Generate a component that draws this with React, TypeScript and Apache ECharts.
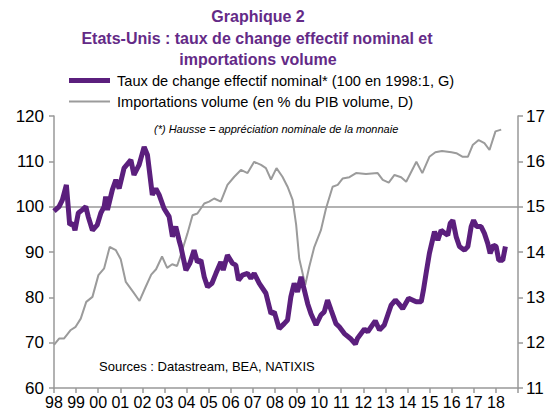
import React, { useEffect, useRef } from "react";
import * as echarts from "echarts";

const titleLines = [
  "Graphique 2",
  "Etats-Unis : taux de change effectif nominal et",
  "importations volume",
];
const legendNames = [
  "Taux de change effectif nominal* (100 en 1998:1, G)",
  "Importations volume (en % du PIB volume, D)",
];
const noteText = "(*) Hausse = appréciation nominale de la monnaie";
const sourceText = "Sources : Datastream, BEA, NATIXIS";

const leftTicks = [60, 70, 80, 90, 100, 110, 120];
const rightTicks = [11, 12, 13, 14, 15, 16, 17];
const yearStart = 1998;
const yearEnd = 2019;

// Taux de change effectif nominal (left axis)
const fxDates = [
  1998.0, 1998.23, 1998.38, 1998.56, 1998.71, 1998.86, 1998.95, 1999.1, 1999.28, 1999.44,
  1999.55, 1999.74, 1999.96, 2000.12, 2000.27, 2000.34, 2000.42, 2000.64, 2000.8, 2000.95,
  2001.17, 2001.48, 2001.62, 2001.85, 2002.08, 2002.23, 2002.45, 2002.61, 2002.76, 2002.98,
  2003.21, 2003.36, 2003.51, 2003.66, 2003.74, 2003.97, 2004.15, 2004.34, 2004.49, 2004.65,
  2004.8, 2004.95, 2005.15, 2005.33, 2005.55, 2005.66, 2005.85, 2006.08, 2006.23, 2006.35,
  2006.53, 2006.76, 2006.91, 2007.06, 2007.29, 2007.59, 2007.82, 2007.97, 2008.19, 2008.42,
  2008.57, 2008.72, 2008.87, 2009.02, 2009.18, 2009.33, 2009.48, 2009.63, 2009.86, 2010.08,
  2010.23, 2010.38, 2010.54, 2010.76, 2010.91, 2011.14, 2011.44, 2011.64, 2011.74, 2012.05,
  2012.2, 2012.54, 2012.73, 2012.95, 2013.26, 2013.45, 2013.6, 2013.78, 2014.05, 2014.39,
  2014.62, 2014.72, 2014.84, 2014.99, 2015.22, 2015.37, 2015.52, 2015.67, 2015.82, 2015.93,
  2016.05, 2016.2, 2016.35, 2016.58, 2016.73, 2016.88, 2016.99, 2017.13, 2017.33, 2017.48,
  2017.63, 2017.74, 2017.89, 2018.01, 2018.13, 2018.31, 2018.43,
];
const fxValues = [
  99, 100, 101.5, 104.8, 96, 96.3, 94.8, 98.6, 99.3, 100,
  97.8, 94.8, 96, 98.6, 100, 102.2, 99.3, 103.7, 105.9, 104,
  108.5, 110.3, 107, 109.2, 113.2, 111.4, 102.6, 104, 102.6, 99.6,
  97.8, 93.4, 95.6, 92.6, 91.2, 86, 87.5, 90.4, 87.8, 88.2,
  84.5, 82.3, 83.1, 85.3, 87.8, 86, 89.3, 87.5, 87.1, 83.8,
  84.9, 85.3, 84.2, 85.3, 83.1, 80.9, 76.4, 76.8, 73.1, 74.2,
  75, 80.1, 83.1, 81.2, 84.5, 81.6, 78.6, 76.4, 73.9, 76.1,
  76.8, 79.4, 77.2, 74.2, 73.5, 72, 70.8, 69.7, 71, 73,
  72.4, 74.8, 72.8, 73.9, 78.3, 79.4, 78.6, 77.5, 79.8, 79,
  79, 81.6, 85.3, 89.7, 94.5, 92.6, 94.8, 94.2, 93.7, 96.3,
  97, 93.4, 91.2, 90.4, 91.2, 95.6, 97, 95.6, 95.6, 94.1,
  91.9, 89.7, 91.5, 91.2, 88.2, 88.2, 91.2,
];

// Importations volume en % du PIB volume (right axis)
const impDates = [
  1998.0, 1998.23, 1998.45, 1998.76, 1998.98, 1999.21, 1999.46, 1999.74, 2000.01, 2000.27,
  2000.52, 2000.8, 2001.02, 2001.25, 2001.58, 2001.87, 2002.12, 2002.4, 2002.62, 2002.89,
  2003.12, 2003.35, 2003.57, 2003.75, 2004.04, 2004.27, 2004.49, 2004.8, 2005.02, 2005.25,
  2005.55, 2005.85, 2006.16, 2006.46, 2006.76, 2007.06, 2007.37, 2007.59, 2007.82, 2008.07,
  2008.34, 2008.57, 2008.8, 2008.96, 2009.1, 2009.25, 2009.37, 2009.55, 2009.78, 2010.08,
  2010.31, 2010.61, 2010.84, 2011.06, 2011.37, 2011.67, 2012.12, 2012.65, 2012.88, 2013.15,
  2013.41, 2013.71, 2013.94, 2014.4, 2014.67, 2014.99, 2015.26, 2015.56, 2015.99, 2016.21,
  2016.5, 2016.73, 2016.95, 2017.22, 2017.48, 2017.71, 2017.98, 2018.24,
];
const impValues = [
  11.95, 12.09, 12.09, 12.28, 12.35, 12.53, 12.9, 13.01, 13.49, 13.64,
  14.11, 14.04, 13.84, 13.34, 13.12, 12.92, 13.2, 13.5, 13.62, 13.9,
  13.65, 13.73, 13.69, 13.95, 14.41, 14.81, 14.85, 15.07, 15.11, 15.18,
  15.11, 15.48, 15.66, 15.81, 15.74, 15.99, 15.92, 15.85, 15.6, 15.85,
  15.66, 15.44, 15.15, 14.6, 13.85, 13.53, 13.27, 13.67, 14.11, 14.48,
  14.96, 15.44, 15.48, 15.62, 15.65, 15.74, 15.72, 15.74, 15.59, 15.53,
  15.7, 15.65, 15.55, 15.99, 15.74, 16.1, 16.2, 16.23, 16.2, 16.18,
  16.1, 16.1, 16.36, 16.47, 16.4, 16.25, 16.66, 16.7,
];

const PURPLE = "#5b1f7d";
const TITLE = "#642a87";
const GRAY = "#9b9b9b";
const AXIS = "#999999";
const FONT = "'Liberation Sans', Arial, sans-serif";

export default function App() {
  const ref = useRef<HTMLDivElement>(null);
  useEffect(() => {
    if (!ref.current) return;
    const chart = echarts.init(ref.current, null, { renderer: "svg" });
    const fxData = fxDates.map((d, i) => [d, fxValues[i]]);
    const impData = impDates.map((d, i) => [d, impValues[i]]);
    const axisCommon = {
      axisLine: { show: true, lineStyle: { color: AXIS, width: 1.5 } },
      axisTick: { show: true, length: 5, lineStyle: { color: AXIS, width: 1.5 } },
      splitLine: { show: false },
    };
    chart.setOption({
      animation: false,
      textStyle: { fontFamily: FONT },
      grid: { left: 54, right: 35, top: 116, bottom: 26, containLabel: false },
      xAxis: {
        type: "value",
        min: yearStart,
        max: yearEnd,
        interval: 1,
        ...axisCommon,
        axisLabel: {
          color: "#000",
          fontSize: 16,
          margin: 6,
          fontFamily: FONT,
          formatter: (v: number) => (v >= yearEnd ? "" : String(Math.round(v) % 100).padStart(2, "0")),
        },
      },
      yAxis: [
        {
          type: "value",
          min: leftTicks[0],
          max: leftTicks[leftTicks.length - 1],
          interval: 10,
          position: "left",
          ...axisCommon,
          axisLabel: { color: "#000", fontSize: 17, margin: 10, fontFamily: FONT },
        },
        {
          type: "value",
          min: rightTicks[0],
          max: rightTicks[rightTicks.length - 1],
          interval: 1,
          position: "right",
          ...axisCommon,
          axisLabel: { color: "#000", fontSize: 17, margin: 8, fontFamily: FONT },
        },
      ],
      series: [
        {
          name: legendNames[1],
          type: "line",
          yAxisIndex: 1,
          data: impData,
          showSymbol: false,
          lineStyle: { color: GRAY, width: 2 },
          z: 2,
        },
        {
          name: legendNames[0],
          type: "line",
          yAxisIndex: 0,
          data: fxData,
          showSymbol: false,
          lineStyle: { color: PURPLE, width: 5 },
          z: 3,
          markLine: {
            silent: true,
            symbol: "none",
            label: { show: false },
            lineStyle: { color: AXIS, width: 1.5, type: "solid" },
            data: [{ yAxis: 100 }],
            z: 1,
          },
        },
      ],
      graphic: [
        {
          type: "text",
          x: 258,
          y: 8,
          style: { text: titleLines[0], font: `bold 16px ${FONT}`, fill: TITLE, align: "center" },
        },
        {
          type: "text",
          x: 257,
          y: 30,
          style: { text: titleLines[1], font: `bold 16px ${FONT}`, fill: TITLE, align: "center" },
        },
        {
          type: "text",
          x: 258,
          y: 51,
          style: { text: titleLines[2], font: `bold 16px ${FONT}`, fill: TITLE, align: "center" },
        },
        {
          type: "line",
          shape: { x1: 69, y1: 80.5, x2: 110, y2: 80.5 },
          style: { stroke: PURPLE, lineWidth: 5 },
        },
        {
          type: "text",
          x: 117,
          y: 81,
          style: { text: legendNames[0], font: `14.6px ${FONT}`, fill: "#000", verticalAlign: "middle" },
        },
        {
          type: "line",
          shape: { x1: 69, y1: 101.5, x2: 110, y2: 101.5 },
          style: { stroke: GRAY, lineWidth: 2 },
        },
        {
          type: "text",
          x: 117,
          y: 101.5,
          style: { text: legendNames[1], font: `14.6px ${FONT}`, fill: "#000", verticalAlign: "middle" },
        },
        {
          type: "text",
          x: 154,
          y: 129,
          style: { text: noteText, font: `italic 11px ${FONT}`, fill: "#000", verticalAlign: "middle" },
        },
        {
          type: "text",
          x: 99,
          y: 366,
          style: { text: sourceText, font: `13px ${FONT}`, fill: "#000", verticalAlign: "middle" },
        },
      ],
    });
    return () => chart.dispose();
  }, []);
  return <div ref={ref} style={{ width: 553, height: 414, position: "absolute", left: 0, top: 0 }} />;
}
